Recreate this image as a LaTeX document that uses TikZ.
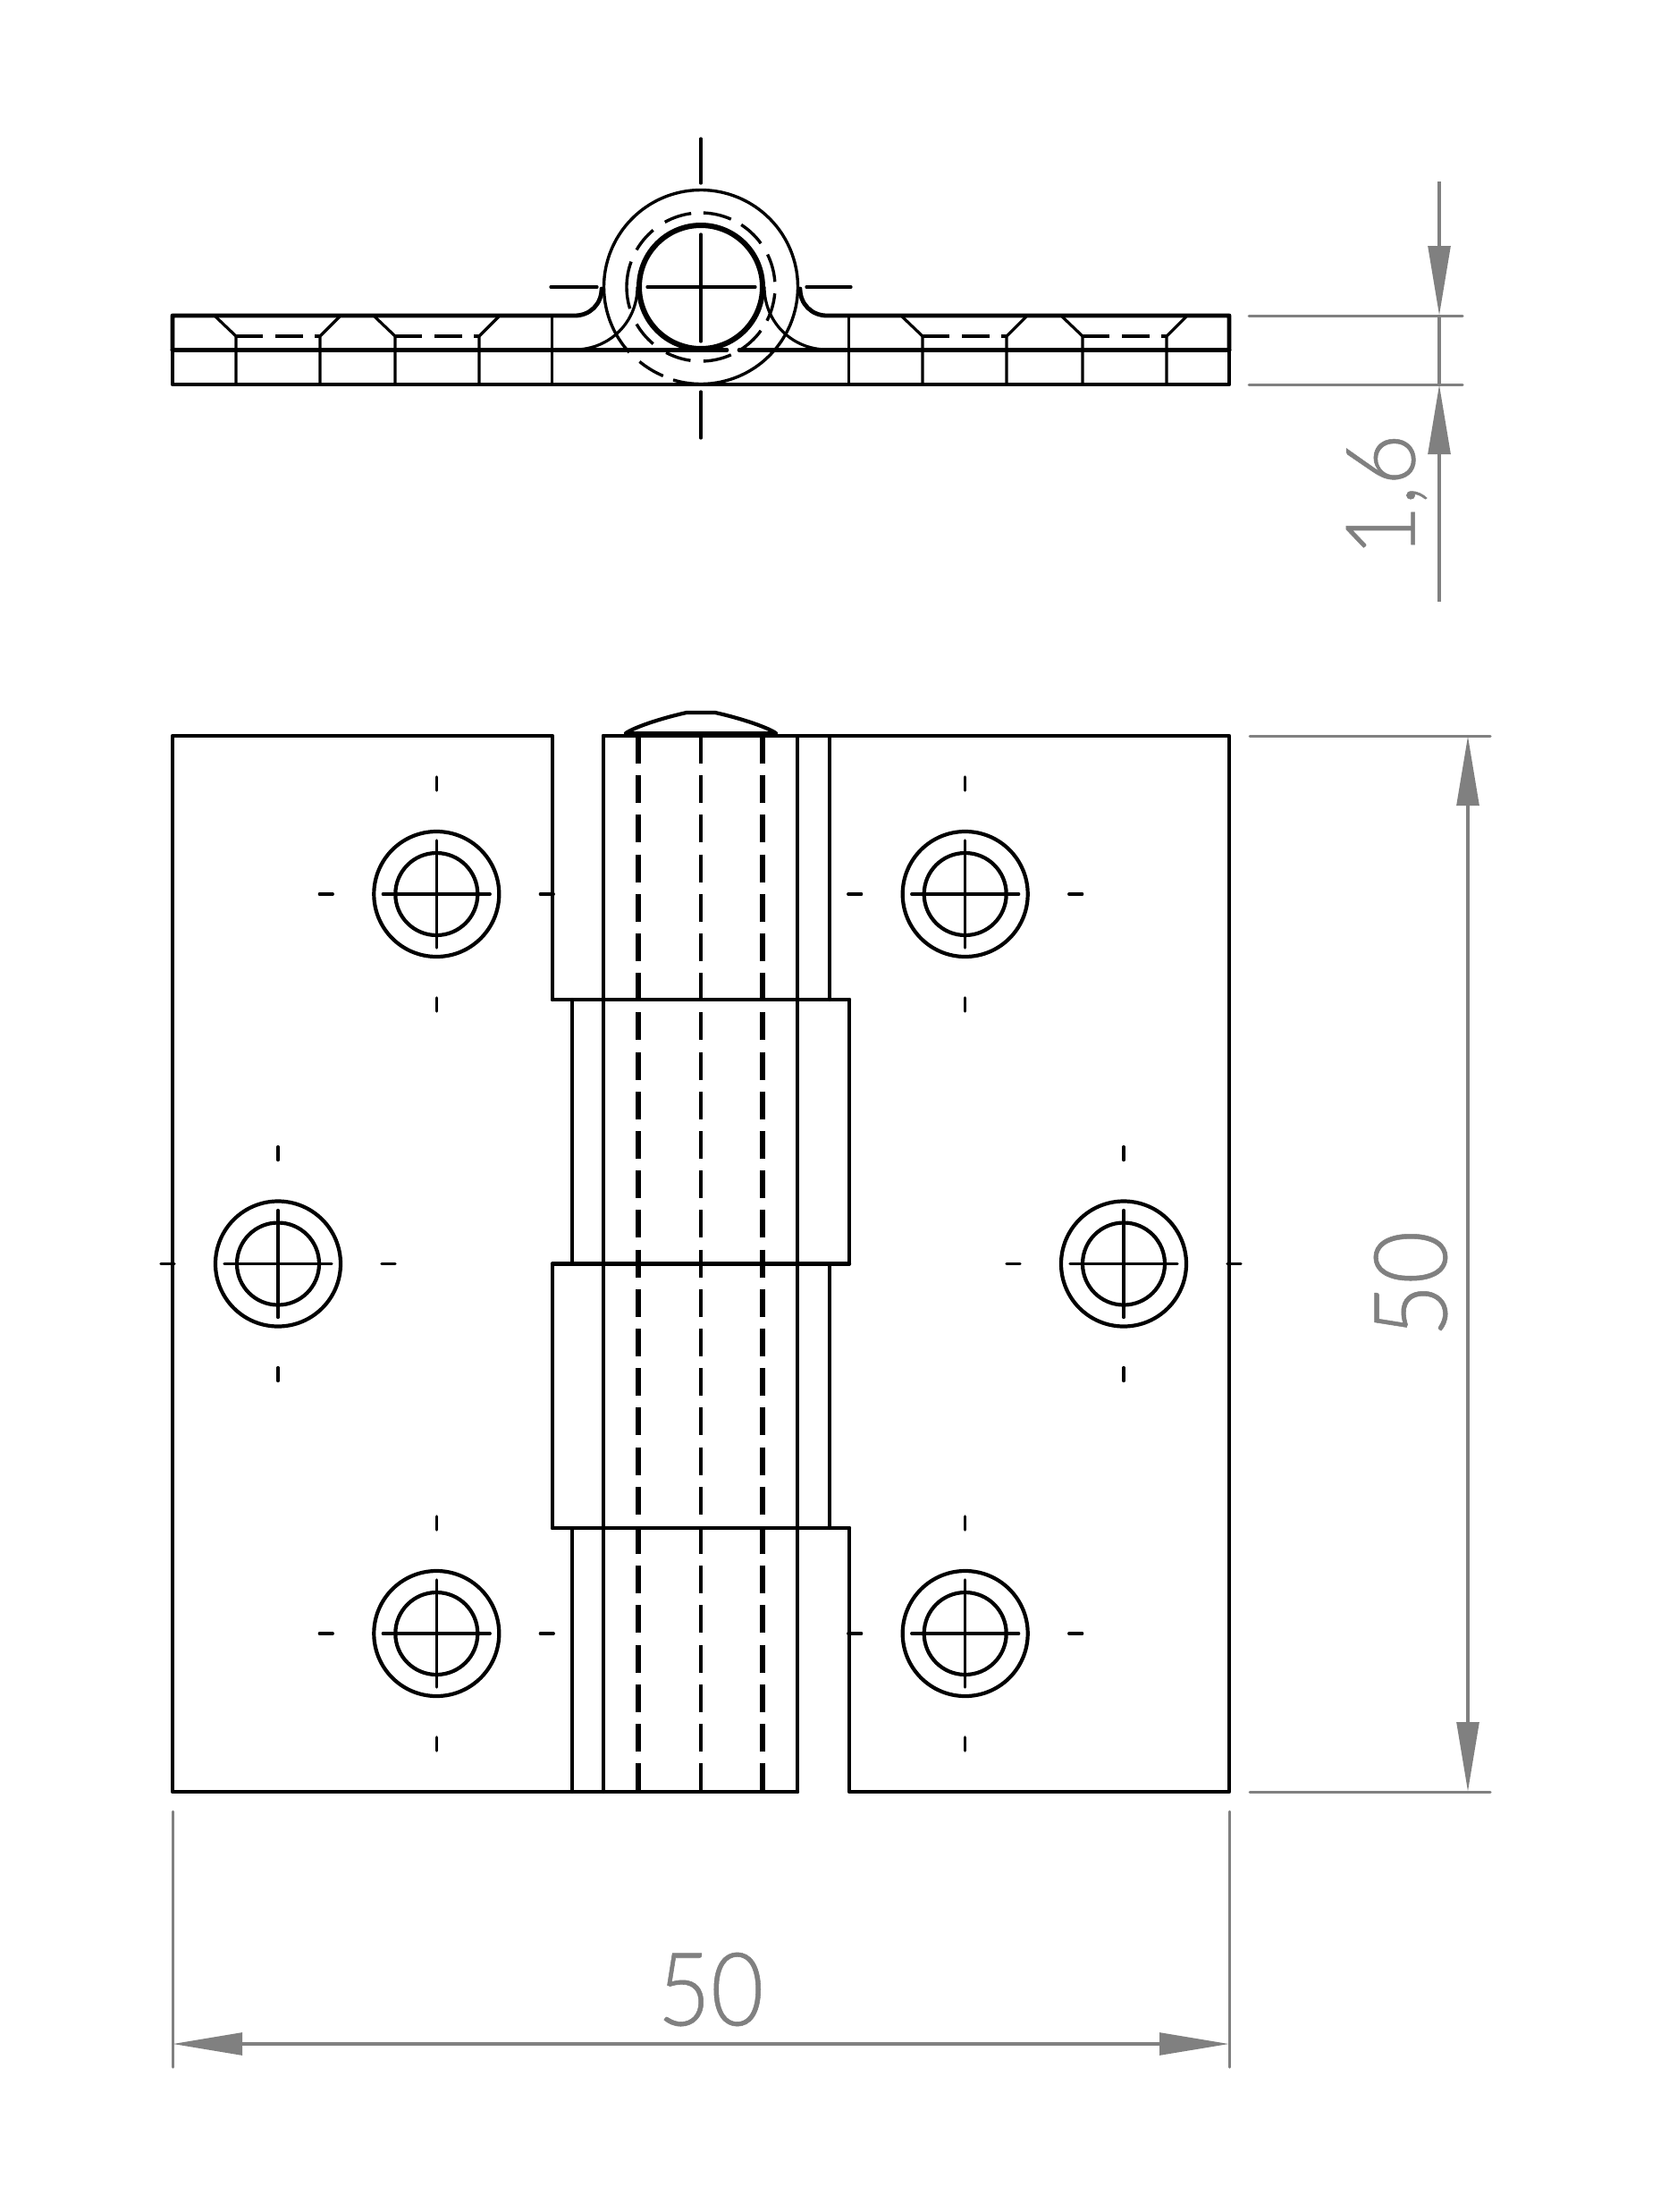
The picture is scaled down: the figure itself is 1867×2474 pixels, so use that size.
\documentclass[tikz,border=0pt]{standalone}
\usepackage{fontspec}
\setmainfont{Lato Light}[FakeBold=0.5]
\usetikzlibrary{arrows.meta}
\definecolor{dimgray}{RGB}{128,128,128}
\tikzset{
  outl/.style={line width=2.1pt,line cap=round,line join=round,black},
  band/.style={line width=2.4pt,line cap=round,line join=round,black},
  fine/.style={line width=1.6pt,line cap=round,line join=round,black},
  hid/.style={line width=1.7pt,line cap=butt,black},
  pin/.style={line width=2.8pt,black,dash pattern=on 15.5pt off 6.6pt},
  axisdash/.style={line width=1.6pt,black,dash pattern=on 15.5pt off 6.6pt},
  dimline/.style={line width=2pt,dimgray},
  extline/.style={line width=1.5pt,dimgray,line cap=round},
  tipboth/.style={{Triangle[length=39pt,width=12.3pt]}-{Triangle[length=39pt,width=12.3pt]}},
  tipend/.style={-{Triangle[length=39pt,width=12.3pt]}},
  dimtext/.style={text=dimgray,inner sep=0pt,font=\fontsize{57}{60}\selectfont},
  dimtextsmall/.style={text=dimgray,inner sep=0pt,font=\fontsize{54}{60}\selectfont}
}
\newcommand{\hingehole}[2]{%
  \draw[outl] (#1,#2) circle[radius=70];
  \draw[outl] (#1,#2) circle[radius=46];
  \draw[fine] ({#1-60},#2) -- ({#1+60},#2);
  \draw[fine] (#1,{#2-60}) -- (#1,{#2+60});
  \draw[fine] ({#1-131},#2) -- ({#1-116},#2);
  \draw[fine] ({#1+116},#2) -- ({#1+131},#2);
  \draw[fine] (#1,{#2-131}) -- (#1,{#2-116});
  \draw[fine] (#1,{#2+116}) -- (#1,{#2+131});
}
\newcommand{\hidarc}[3][83]{%
  \draw[hid] plot[smooth,domain=#2:#3,samples=9] ({784+#1*cos(\x)},{321-#1*sin(\x)});
}
\newcommand{\cbore}[1]{% left chamfer top x
  \draw[fine] (#1,354) -- ({#1+23},376) -- ({#1+23},430);
  \draw[fine] ({#1+139},354) -- ({#1+117},376) -- ({#1+117},430);
  \draw[hid] ({#1+23},376) -- ({#1+53},376);
  \draw[hid] ({#1+67},376) -- ({#1+98},376);
  \draw[hid] ({#1+111},376) -- ({#1+117},376);
}
\begin{document}
\begin{tikzpicture}[x=0.5pt,y=-0.5pt]
\useasboundingbox (0,0) rectangle (1867,2474);

% ---- top view ----
\draw[band] (193,391.7) -- (193,353) -- (643,353) .. controls (660,353) and (673,340) .. (673,323);
\draw[band] (1375,391.7) -- (1375,353) -- (925,353) .. controls (908,353) and (895,340) .. (895,323);
\draw[band] (193,391.7) -- (193,430) -- (1375,430) -- (1375,391.7);
\draw[band] (193,391.7) -- (813,391.7);
\draw[band] (827,391.7) -- (1375,391.7);
\draw[fine] (643,391) .. controls (682,391) and (713,360) .. (713,321);
\draw[fine] (925,391) .. controls (886,391) and (855,360) .. (855,321);
\draw[fine] (617.5,353) -- (617.5,430);
\draw[fine] (949.5,353) -- (949.5,430);
\cbore{241}
\cbore{419}
\cbore{1009}
\cbore{1188}
% outer eye
\draw[hid] plot[smooth,domain=-106.6:222.4,samples=60] ({784+108.5*cos(\x)},{321-108.5*sin(\x)});
\hidarc[108]{-129.4}{-113}
% hidden bore
\foreach \a/\b in {-27/-5,-58/-36,-88/-66,-118/-98,-150/-130,160/197,130/150,97.5/119,66/88,36/57,4/26}{
  \hidarc{\a}{\b}
}
% pin
\draw[line width=3pt,black] (784,321) circle[radius=69];
% centre marks
\draw[fine] (724,321) -- (845,321);
\draw[fine] (784,262) -- (784,382);
\draw[fine] (616,321) -- (668,321);
\draw[fine] (902,321) -- (952,321);
\draw[fine] (784,155) -- (784,205);
\draw[fine] (784,438) -- (784,490);

% ---- front view ----
\draw[outl] (950,1118) -- (950,1413.5);
\draw[outl] (675,823) -- (1375,823) -- (1375,2004) -- (950,2004) -- (950,1709);
\draw[outl] (675,823) -- (675,2004);
\draw[outl] (892,2004) -- (193,2004) -- (193,823) -- (618,823) -- (618,1118);
\draw[outl] (618,1118) -- (950,1118);
\draw[outl] (618,1413.5) -- (950,1413.5);
\draw[outl] (618,1413.5) -- (618,1709);
\draw[outl] (618,1709) -- (950,1709);
\draw[outl] (640,1118) -- (640,1413.5);
\draw[outl] (640,1709) -- (640,2004);
\draw[outl] (892,823) -- (892,2004);
\draw[outl] (928,823) -- (928,1118);
\draw[outl] (928,1413.5) -- (928,1709);
% pin head
\draw[outl] (700,820) .. controls (712,812) and (745,802) .. (768,797) -- (800,797) .. controls (823,802) and (856,812) .. (868,820);
\draw[line width=3pt,black] (702,821) -- (866,821);
% pin hidden edges
\draw[pin] (714,823) -- (714,2004);
\draw[pin] (853,823) -- (853,2004);
\draw[axisdash] (784,823) -- (784,2004);
% holes
\hingehole{488.3}{1000}
\hingehole{1079.7}{1000}
\hingehole{311}{1413.5}
\hingehole{1257}{1413.5}
\hingehole{488.3}{1827}
\hingehole{1079.7}{1827}

% ---- dimensions ----
\coordinate (hL) at (193,2286);
\coordinate (hR) at (1375,2286);
\draw[extline] (193,2026) -- (193,2312);
\draw[extline] (1375,2026) -- (1375,2312);
\draw[dimline,tipboth] (hL) -- (hR);
\node[dimtext,xscale=0.9] (widthlabel) at (795,2225) {50};

\coordinate (vT) at (1642,823);
\coordinate (vB) at (1642,2004);
\draw[extline] (1398,823) -- (1667,823);
\draw[extline] (1398,2004) -- (1667,2004);
\draw[dimline,tipboth] (vT) -- (vB);
\node[dimtext,rotate=90,xscale=0.9] (heightlabel) at (1578,1436) {50};

\coordinate (tA) at (1610,203);
\coordinate (tB) at (1610,353);
\coordinate (tC) at (1610,430);
\coordinate (tD) at (1610,673);
\draw[extline] (1397,353) -- (1636,353);
\draw[extline] (1397,430) -- (1636,430);
\draw[dimline] (tB) -- (tC);
\draw[dimline,tipend] (tA) -- (tB);
\draw[dimline,tipend] (tD) -- (tC);
\node[dimtextsmall,rotate=90,xscale=0.92] (thicklabel) at (1551,554) {1,6};
\end{tikzpicture}
\end{document}
